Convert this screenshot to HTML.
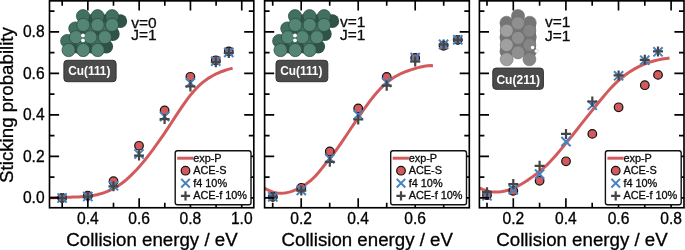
<!DOCTYPE html>
<html><head><meta charset="utf-8"><title>Sticking probability</title>
<style>html,body{margin:0;padding:0;background:#fff}text{stroke:#000;stroke-width:0.3px}text.w{stroke:none}body{width:685px;height:250px;overflow:hidden}</style></head>
<body>
<svg width="685" height="250" viewBox="0 0 685 250" style="display:block;font-family:'Liberation Sans', Arial, Helvetica, sans-serif">
<rect width="685" height="250" fill="#fff"/>
<g>
<clipPath id="cp0"><rect x="49.50" y="0.85" width="204.30" height="206.90"/></clipPath>
<circle cx="120.3" cy="21.1" r="6.9" fill="#2f5347"/>
<circle cx="105.8" cy="21.1" r="6.9" fill="#2f5347"/>
<circle cx="91.3" cy="21.1" r="6.9" fill="#2f5347"/>
<circle cx="112.8" cy="34.0" r="6.9" fill="#2f5347"/>
<circle cx="98.3" cy="34.0" r="6.9" fill="#2f5347"/>
<circle cx="83.8" cy="34.0" r="6.9" fill="#2f5347"/>
<circle cx="106.2" cy="46.6" r="6.9" fill="#2f5347"/>
<circle cx="91.7" cy="46.6" r="6.9" fill="#2f5347"/>
<circle cx="77.2" cy="46.6" r="6.9" fill="#2f5347"/>
<circle cx="83.0" cy="16.2" r="6.6" fill="#41705f" stroke="#2b4b40" stroke-width="0.7"/>
<circle cx="97.6" cy="16.2" r="6.6" fill="#41705f" stroke="#2b4b40" stroke-width="0.7"/>
<circle cx="112.1" cy="16.2" r="6.6" fill="#41705f" stroke="#2b4b40" stroke-width="0.7"/>
<circle cx="75.3" cy="28.5" r="6.6" fill="#41705f" stroke="#2b4b40" stroke-width="0.7"/>
<circle cx="89.8" cy="28.5" r="6.6" fill="#41705f" stroke="#2b4b40" stroke-width="0.7"/>
<circle cx="104.3" cy="28.5" r="6.6" fill="#41705f" stroke="#2b4b40" stroke-width="0.7"/>
<circle cx="67.2" cy="41.0" r="6.6" fill="#41705f" stroke="#2b4b40" stroke-width="0.7"/>
<circle cx="81.7" cy="41.0" r="6.6" fill="#41705f" stroke="#2b4b40" stroke-width="0.7"/>
<circle cx="96.2" cy="41.0" r="6.6" fill="#41705f" stroke="#2b4b40" stroke-width="0.7"/>
<circle cx="83.3" cy="24.9" r="6.6" fill="#558574" stroke="#2b4b40" stroke-width="0.8"/>
<circle cx="97.6" cy="24.9" r="6.6" fill="#558574" stroke="#2b4b40" stroke-width="0.8"/>
<circle cx="112.0" cy="24.9" r="6.6" fill="#558574" stroke="#2b4b40" stroke-width="0.8"/>
<circle cx="75.9" cy="37.2" r="6.6" fill="#558574" stroke="#2b4b40" stroke-width="0.8"/>
<circle cx="90.4" cy="37.2" r="6.6" fill="#558574" stroke="#2b4b40" stroke-width="0.8"/>
<circle cx="104.9" cy="37.2" r="6.6" fill="#558574" stroke="#2b4b40" stroke-width="0.8"/>
<circle cx="68.6" cy="50.0" r="6.6" fill="#558574" stroke="#2b4b40" stroke-width="0.8"/>
<circle cx="83.2" cy="50.0" r="6.6" fill="#558574" stroke="#2b4b40" stroke-width="0.8"/>
<circle cx="97.7" cy="50.0" r="6.6" fill="#558574" stroke="#2b4b40" stroke-width="0.8"/>
<circle cx="83.0" cy="35.5" r="1.9" fill="#fff"/>
<circle cx="83.0" cy="40.3" r="1.9" fill="#fff"/>
<rect x="63.9" y="60.3" width="52.2" height="21.4" rx="3.2" fill="#4b4b4b" stroke="#333" stroke-width="1"/><text x="68.2" y="75.2" class="w" font-size="12.6" font-weight="bold" fill="#fff" textLength="42.2" lengthAdjust="spacingAndGlyphs">Cu(111)</text>
<path d="M49.00,198.12 L51.66,197.86 L54.32,197.66 L56.98,197.51 L59.64,197.40 L62.30,197.32 L64.97,197.26 L67.63,197.22 L70.29,197.17 L72.95,197.12 L75.61,197.05 L78.27,196.95 L80.93,196.82 L83.59,196.64 L86.25,196.41 L88.91,196.11 L91.57,195.74 L94.23,195.28 L96.90,194.73 L99.56,194.07 L102.22,193.31 L104.88,192.42 L107.54,191.40 L110.20,190.23 L112.86,188.92 L115.52,187.45 L118.18,185.80 L120.84,183.98 L123.50,181.97 L126.17,179.79 L128.83,177.43 L131.49,174.92 L134.15,172.25 L136.81,169.43 L139.47,166.48 L142.13,163.39 L144.79,160.17 L147.45,156.84 L150.11,153.40 L152.77,149.85 L155.43,146.21 L158.10,142.48 L160.76,138.67 L163.42,134.78 L166.08,130.83 L168.74,126.82 L171.40,122.75 L174.06,118.67 L176.72,114.59 L179.38,110.57 L182.04,106.63 L184.70,102.81 L187.37,99.14 L190.03,95.67 L192.69,92.43 L195.35,89.43 L198.01,86.69 L200.67,84.20 L203.33,81.95 L205.99,79.92 L208.65,78.10 L211.31,76.46 L213.97,74.99 L216.63,73.69 L219.30,72.52 L221.96,71.47 L224.62,70.53 L227.28,69.69 L229.94,68.91 L232.60,68.20" fill="none" stroke="#d35a5c" stroke-width="3" stroke-linecap="butt" stroke-linejoin="round" clip-path="url(#cp0)"/>
<circle cx="62.10" cy="198.00" r="4.30" fill="#d25a5c" stroke="#111" stroke-width="1.2"/>
<circle cx="87.80" cy="195.70" r="4.30" fill="#d25a5c" stroke="#111" stroke-width="1.2"/>
<circle cx="113.50" cy="181.20" r="4.30" fill="#d25a5c" stroke="#111" stroke-width="1.2"/>
<circle cx="139.00" cy="145.80" r="4.30" fill="#d25a5c" stroke="#111" stroke-width="1.2"/>
<circle cx="164.60" cy="110.50" r="4.30" fill="#d25a5c" stroke="#111" stroke-width="1.2"/>
<circle cx="190.40" cy="76.80" r="4.30" fill="#d25a5c" stroke="#111" stroke-width="1.2"/>
<circle cx="215.80" cy="60.30" r="4.30" fill="#d25a5c" stroke="#111" stroke-width="1.2"/>
<circle cx="228.80" cy="51.40" r="4.30" fill="#d25a5c" stroke="#111" stroke-width="1.2"/>
<path d="M57.50,193.40 L66.70,202.60 M57.50,202.60 L66.70,193.40" stroke="#4383c0" stroke-width="2.00" fill="none"/>
<path d="M83.20,191.90 L92.40,201.10 M83.20,201.10 L92.40,191.90" stroke="#4383c0" stroke-width="2.00" fill="none"/>
<path d="M108.90,181.20 L118.10,190.40 M108.90,190.40 L118.10,181.20" stroke="#4383c0" stroke-width="2.00" fill="none"/>
<path d="M134.40,149.40 L143.60,158.60 M134.40,158.60 L143.60,149.40" stroke="#4383c0" stroke-width="2.00" fill="none"/>
<path d="M160.00,111.90 L169.20,121.10 M160.00,121.10 L169.20,111.90" stroke="#4383c0" stroke-width="2.00" fill="none"/>
<path d="M185.80,78.20 L195.00,87.40 M185.80,87.40 L195.00,78.20" stroke="#4383c0" stroke-width="2.00" fill="none"/>
<path d="M211.20,56.60 L220.40,65.80 M211.20,65.80 L220.40,56.60" stroke="#4383c0" stroke-width="2.00" fill="none"/>
<path d="M224.20,47.80 L233.40,57.00 M224.20,57.00 L233.40,47.80" stroke="#4383c0" stroke-width="2.00" fill="none"/>
<path d="M57.10,198.00 L67.10,198.00 M62.10,193.00 L62.10,203.00" stroke="#454545" stroke-width="2.20" fill="none"/>
<path d="M82.80,196.50 L92.80,196.50 M87.80,191.50 L87.80,201.50" stroke="#454545" stroke-width="2.20" fill="none"/>
<path d="M108.50,186.30 L118.50,186.30 M113.50,181.30 L113.50,191.30" stroke="#454545" stroke-width="2.20" fill="none"/>
<path d="M134.00,155.60 L144.00,155.60 M139.00,150.60 L139.00,160.60" stroke="#454545" stroke-width="2.20" fill="none"/>
<path d="M159.60,119.10 L169.60,119.10 M164.60,114.10 L164.60,124.10" stroke="#454545" stroke-width="2.20" fill="none"/>
<path d="M185.40,86.40 L195.40,86.40 M190.40,81.40 L190.40,91.40" stroke="#454545" stroke-width="2.20" fill="none"/>
<path d="M210.80,62.20 L220.80,62.20 M215.80,57.20 L215.80,67.20" stroke="#454545" stroke-width="2.20" fill="none"/>
<path d="M223.80,53.00 L233.80,53.00 M228.80,48.00 L228.80,58.00" stroke="#454545" stroke-width="2.20" fill="none"/>
<path d="M87.85,207.75 v-9.60 M87.85,0.85 v9.60 M139.15,207.75 v-9.60 M139.15,0.85 v9.60 M190.45,207.75 v-9.60 M190.45,0.85 v9.60 M241.75,207.75 v-9.60 M241.75,0.85 v9.60 M62.20,207.75 v-5.00 M62.20,0.85 v5.00 M113.50,207.75 v-5.00 M113.50,0.85 v5.00 M164.80,207.75 v-5.00 M164.80,0.85 v5.00 M216.10,207.75 v-5.00 M216.10,0.85 v5.00 M49.50,197.80 h9.60 M253.80,197.80 h-9.60 M49.50,177.05 h5.00 M253.80,177.05 h-5.00 M49.50,156.30 h9.60 M253.80,156.30 h-9.60 M49.50,135.55 h5.00 M253.80,135.55 h-5.00 M49.50,114.80 h9.60 M253.80,114.80 h-9.60 M49.50,94.05 h5.00 M253.80,94.05 h-5.00 M49.50,73.30 h9.60 M253.80,73.30 h-9.60 M49.50,52.55 h5.00 M253.80,52.55 h-5.00 M49.50,31.80 h9.60 M253.80,31.80 h-9.60 M49.50,11.05 h5.00 M253.80,11.05 h-5.00" stroke="#000" stroke-width="1.65" fill="none"/>
<rect x="49.50" y="0.85" width="204.30" height="206.90" fill="none" stroke="#000" stroke-width="1.65"/>
<rect x="175.20" y="150.8" width="75.8" height="54" rx="2.2" fill="#fff" stroke="#111" stroke-width="1.4"/>
<path d="M177.20,158.2 H193.40" stroke="#d35a5c" stroke-width="3"/>
<circle cx="185.50" cy="170.70" r="4.30" fill="#d25a5c" stroke="#111" stroke-width="1.2"/>
<path d="M181.20,178.90 L189.80,187.50 M181.20,187.50 L189.80,178.90" stroke="#4383c0" stroke-width="2.00" fill="none"/>
<path d="M180.90,195.80 L190.10,195.80 M185.50,191.20 L185.50,200.40" stroke="#454545" stroke-width="2.20" fill="none"/>
<text x="193.20" y="161.9" font-size="10.9" fill="#111">exp-P</text>
<text x="193.20" y="174.3" font-size="10.9" fill="#111">ACE-S</text>
<text x="193.20" y="186.9" font-size="10.9" fill="#111">f4 10%</text>
<text x="193.20" y="199.4" font-size="10.9" fill="#111">ACE-f 10%</text>
<text x="87.85" y="224.4" font-size="15.6" text-anchor="middle" fill="#000">0.4</text>
<text x="139.15" y="224.4" font-size="15.6" text-anchor="middle" fill="#000">0.6</text>
<text x="190.45" y="224.4" font-size="15.6" text-anchor="middle" fill="#000">0.8</text>
<text x="241.75" y="224.4" font-size="15.6" text-anchor="middle" fill="#000">1.0</text>
<text x="151.95" y="245.6" font-size="18.7" text-anchor="middle" fill="#000">Collision energy / eV</text>
</g>
<g>
<clipPath id="cp1"><rect x="264.60" y="0.85" width="204.70" height="206.90"/></clipPath>
<circle cx="332.3" cy="21.1" r="6.9" fill="#2f5347"/>
<circle cx="317.8" cy="21.1" r="6.9" fill="#2f5347"/>
<circle cx="303.3" cy="21.1" r="6.9" fill="#2f5347"/>
<circle cx="324.8" cy="34.0" r="6.9" fill="#2f5347"/>
<circle cx="310.3" cy="34.0" r="6.9" fill="#2f5347"/>
<circle cx="295.8" cy="34.0" r="6.9" fill="#2f5347"/>
<circle cx="318.2" cy="46.6" r="6.9" fill="#2f5347"/>
<circle cx="303.7" cy="46.6" r="6.9" fill="#2f5347"/>
<circle cx="289.2" cy="46.6" r="6.9" fill="#2f5347"/>
<circle cx="295.0" cy="16.2" r="6.6" fill="#41705f" stroke="#2b4b40" stroke-width="0.7"/>
<circle cx="309.6" cy="16.2" r="6.6" fill="#41705f" stroke="#2b4b40" stroke-width="0.7"/>
<circle cx="324.1" cy="16.2" r="6.6" fill="#41705f" stroke="#2b4b40" stroke-width="0.7"/>
<circle cx="287.3" cy="28.5" r="6.6" fill="#41705f" stroke="#2b4b40" stroke-width="0.7"/>
<circle cx="301.8" cy="28.5" r="6.6" fill="#41705f" stroke="#2b4b40" stroke-width="0.7"/>
<circle cx="316.3" cy="28.5" r="6.6" fill="#41705f" stroke="#2b4b40" stroke-width="0.7"/>
<circle cx="279.2" cy="41.0" r="6.6" fill="#41705f" stroke="#2b4b40" stroke-width="0.7"/>
<circle cx="293.7" cy="41.0" r="6.6" fill="#41705f" stroke="#2b4b40" stroke-width="0.7"/>
<circle cx="308.2" cy="41.0" r="6.6" fill="#41705f" stroke="#2b4b40" stroke-width="0.7"/>
<circle cx="295.3" cy="24.9" r="6.6" fill="#558574" stroke="#2b4b40" stroke-width="0.8"/>
<circle cx="309.6" cy="24.9" r="6.6" fill="#558574" stroke="#2b4b40" stroke-width="0.8"/>
<circle cx="324.0" cy="24.9" r="6.6" fill="#558574" stroke="#2b4b40" stroke-width="0.8"/>
<circle cx="287.9" cy="37.2" r="6.6" fill="#558574" stroke="#2b4b40" stroke-width="0.8"/>
<circle cx="302.4" cy="37.2" r="6.6" fill="#558574" stroke="#2b4b40" stroke-width="0.8"/>
<circle cx="316.9" cy="37.2" r="6.6" fill="#558574" stroke="#2b4b40" stroke-width="0.8"/>
<circle cx="280.6" cy="50.0" r="6.6" fill="#558574" stroke="#2b4b40" stroke-width="0.8"/>
<circle cx="295.2" cy="50.0" r="6.6" fill="#558574" stroke="#2b4b40" stroke-width="0.8"/>
<circle cx="309.7" cy="50.0" r="6.6" fill="#558574" stroke="#2b4b40" stroke-width="0.8"/>
<circle cx="295.0" cy="35.5" r="1.9" fill="#fff"/>
<circle cx="295.0" cy="40.3" r="1.9" fill="#fff"/>
<rect x="276.0" y="60.3" width="51.8" height="21.4" rx="3.2" fill="#4b4b4b" stroke="#333" stroke-width="1"/><text x="280.2" y="75.2" class="w" font-size="12.6" font-weight="bold" fill="#fff" textLength="42.2" lengthAdjust="spacingAndGlyphs">Cu(111)</text>
<path d="M262.00,186.19 L264.48,187.97 L266.96,189.47 L269.43,190.71 L271.91,191.68 L274.39,192.41 L276.87,192.90 L279.35,193.16 L281.83,193.20 L284.30,193.03 L286.78,192.66 L289.26,192.10 L291.74,191.36 L294.22,190.45 L296.70,189.38 L299.17,188.16 L301.65,186.80 L304.13,185.31 L306.61,183.65 L309.09,181.81 L311.57,179.74 L314.04,177.43 L316.52,174.85 L319.00,171.98 L321.48,168.92 L323.96,165.77 L326.43,162.65 L328.91,159.61 L331.39,156.49 L333.87,153.24 L336.35,149.87 L338.83,146.39 L341.30,142.82 L343.78,139.18 L346.26,135.49 L348.74,131.77 L351.22,128.03 L353.70,124.30 L356.17,120.58 L358.65,116.90 L361.13,113.28 L363.61,109.73 L366.09,106.26 L368.57,102.90 L371.04,99.65 L373.52,96.53 L376.00,93.55 L378.48,90.73 L380.96,88.09 L383.43,85.63 L385.91,83.37 L388.39,81.32 L390.87,79.47 L393.35,77.80 L395.83,76.30 L398.30,74.96 L400.78,73.74 L403.26,72.65 L405.74,71.66 L408.22,70.75 L410.70,69.92 L413.17,69.13 L415.65,68.39 L418.13,67.67 L420.61,67.00 L423.09,66.42 L425.57,65.97 L428.04,65.67 L430.52,65.57 L433.00,65.71" fill="none" stroke="#d35a5c" stroke-width="3" stroke-linecap="butt" stroke-linejoin="round" clip-path="url(#cp1)"/>
<circle cx="272.80" cy="196.90" r="4.30" fill="#d25a5c" stroke="#111" stroke-width="1.2"/>
<circle cx="301.30" cy="187.80" r="4.30" fill="#d25a5c" stroke="#111" stroke-width="1.2"/>
<circle cx="329.80" cy="151.50" r="4.30" fill="#d25a5c" stroke="#111" stroke-width="1.2"/>
<circle cx="358.20" cy="108.40" r="4.30" fill="#d25a5c" stroke="#111" stroke-width="1.2"/>
<circle cx="386.70" cy="76.90" r="4.30" fill="#d25a5c" stroke="#111" stroke-width="1.2"/>
<circle cx="415.20" cy="57.90" r="4.30" fill="#d25a5c" stroke="#111" stroke-width="1.2"/>
<circle cx="443.60" cy="45.80" r="4.30" fill="#d25a5c" stroke="#111" stroke-width="1.2"/>
<circle cx="457.80" cy="39.80" r="4.30" fill="#d25a5c" stroke="#111" stroke-width="1.2"/>
<path d="M268.20,192.30 L277.40,201.50 M268.20,201.50 L277.40,192.30" stroke="#4383c0" stroke-width="2.00" fill="none"/>
<path d="M296.70,185.80 L305.90,195.00 M296.70,195.00 L305.90,185.80" stroke="#4383c0" stroke-width="2.00" fill="none"/>
<path d="M325.20,154.00 L334.40,163.20 M325.20,163.20 L334.40,154.00" stroke="#4383c0" stroke-width="2.00" fill="none"/>
<path d="M353.60,110.20 L362.80,119.40 M353.60,119.40 L362.80,110.20" stroke="#4383c0" stroke-width="2.00" fill="none"/>
<path d="M382.10,77.80 L391.30,87.00 M382.10,87.00 L391.30,77.80" stroke="#4383c0" stroke-width="2.00" fill="none"/>
<path d="M410.60,53.00 L419.80,62.20 M410.60,62.20 L419.80,53.00" stroke="#4383c0" stroke-width="2.00" fill="none"/>
<path d="M439.00,39.80 L448.20,49.00 M439.00,49.00 L448.20,39.80" stroke="#4383c0" stroke-width="2.00" fill="none"/>
<path d="M453.20,35.20 L462.40,44.40 M453.20,44.40 L462.40,35.20" stroke="#4383c0" stroke-width="2.00" fill="none"/>
<path d="M267.80,196.90 L277.80,196.90 M272.80,191.90 L272.80,201.90" stroke="#454545" stroke-width="2.20" fill="none"/>
<path d="M296.30,190.60 L306.30,190.60 M301.30,185.60 L301.30,195.60" stroke="#454545" stroke-width="2.20" fill="none"/>
<path d="M324.80,161.80 L334.80,161.80 M329.80,156.80 L329.80,166.80" stroke="#454545" stroke-width="2.20" fill="none"/>
<path d="M353.20,119.50 L363.20,119.50 M358.20,114.50 L358.20,124.50" stroke="#454545" stroke-width="2.20" fill="none"/>
<path d="M381.70,85.70 L391.70,85.70 M386.70,80.70 L386.70,90.70" stroke="#454545" stroke-width="2.20" fill="none"/>
<path d="M410.20,61.50 L420.20,61.50 M415.20,56.50 L415.20,66.50" stroke="#454545" stroke-width="2.20" fill="none"/>
<path d="M438.60,44.50 L448.60,44.50 M443.60,39.50 L443.60,49.50" stroke="#454545" stroke-width="2.20" fill="none"/>
<path d="M452.80,39.90 L462.80,39.90 M457.80,34.90 L457.80,44.90" stroke="#454545" stroke-width="2.20" fill="none"/>
<path d="M301.20,207.75 v-9.60 M301.20,0.85 v9.60 M358.20,207.75 v-9.60 M358.20,0.85 v9.60 M415.20,207.75 v-9.60 M415.20,0.85 v9.60 M272.70,207.75 v-5.00 M272.70,0.85 v5.00 M329.70,207.75 v-5.00 M329.70,0.85 v5.00 M386.70,207.75 v-5.00 M386.70,0.85 v5.00 M443.70,207.75 v-5.00 M443.70,0.85 v5.00 M264.60,197.80 h9.60 M469.30,197.80 h-9.60 M264.60,177.05 h5.00 M469.30,177.05 h-5.00 M264.60,156.30 h9.60 M469.30,156.30 h-9.60 M264.60,135.55 h5.00 M469.30,135.55 h-5.00 M264.60,114.80 h9.60 M469.30,114.80 h-9.60 M264.60,94.05 h5.00 M469.30,94.05 h-5.00 M264.60,73.30 h9.60 M469.30,73.30 h-9.60 M264.60,52.55 h5.00 M469.30,52.55 h-5.00 M264.60,31.80 h9.60 M469.30,31.80 h-9.60 M264.60,11.05 h5.00 M469.30,11.05 h-5.00" stroke="#000" stroke-width="1.65" fill="none"/>
<rect x="264.60" y="0.85" width="204.70" height="206.90" fill="none" stroke="#000" stroke-width="1.65"/>
<rect x="390.70" y="150.8" width="75.8" height="54" rx="2.2" fill="#fff" stroke="#111" stroke-width="1.4"/>
<path d="M392.70,158.2 H408.90" stroke="#d35a5c" stroke-width="3"/>
<circle cx="401.00" cy="170.70" r="4.30" fill="#d25a5c" stroke="#111" stroke-width="1.2"/>
<path d="M396.70,178.90 L405.30,187.50 M396.70,187.50 L405.30,178.90" stroke="#4383c0" stroke-width="2.00" fill="none"/>
<path d="M396.40,195.80 L405.60,195.80 M401.00,191.20 L401.00,200.40" stroke="#454545" stroke-width="2.20" fill="none"/>
<text x="408.70" y="161.9" font-size="10.9" fill="#111">exp-P</text>
<text x="408.70" y="174.3" font-size="10.9" fill="#111">ACE-S</text>
<text x="408.70" y="186.9" font-size="10.9" fill="#111">f4 10%</text>
<text x="408.70" y="199.4" font-size="10.9" fill="#111">ACE-f 10%</text>
<text x="301.20" y="224.4" font-size="15.6" text-anchor="middle" fill="#000">0.2</text>
<text x="358.20" y="224.4" font-size="15.6" text-anchor="middle" fill="#000">0.4</text>
<text x="415.20" y="224.4" font-size="15.6" text-anchor="middle" fill="#000">0.6</text>
<text x="367.25" y="245.6" font-size="18.7" text-anchor="middle" fill="#000">Collision energy / eV</text>
</g>
<g>
<clipPath id="cp2"><rect x="479.40" y="0.85" width="204.60" height="206.90"/></clipPath>
<rect x="500.4" y="23.5" width="35.4" height="29" fill="#727272"/>
<circle cx="518.0" cy="16.0" r="6.6" fill="#757575" stroke="#666" stroke-width="0.5"/>
<circle cx="506.5" cy="22.8" r="6.6" fill="#757575" stroke="#666" stroke-width="0.5"/>
<circle cx="529.7" cy="22.8" r="6.6" fill="#757575" stroke="#666" stroke-width="0.5"/>
<circle cx="518.0" cy="30.4" r="6.6" fill="#757575" stroke="#666" stroke-width="0.5"/>
<circle cx="518.0" cy="44.8" r="6.6" fill="#757575" stroke="#666" stroke-width="0.5"/>
<circle cx="506.5" cy="37.2" r="6.6" fill="#757575" stroke="#666" stroke-width="0.5"/>
<circle cx="506.5" cy="51.6" r="6.6" fill="#757575" stroke="#666" stroke-width="0.5"/>
<circle cx="529.7" cy="37.2" r="6.6" fill="#757575" stroke="#666" stroke-width="0.5"/>
<circle cx="529.7" cy="51.6" r="6.6" fill="#757575" stroke="#666" stroke-width="0.5"/>
<circle cx="529.4" cy="30.7" r="6.5" fill="#858585" stroke="#6a6a6a" stroke-width="0.5"/>
<circle cx="529.4" cy="45.0" r="6.5" fill="#858585" stroke="#6a6a6a" stroke-width="0.5"/>
<circle cx="529.4" cy="59.3" r="6.5" fill="#858585" stroke="#6a6a6a" stroke-width="0.5"/>
<circle cx="506.7" cy="30.7" r="6.5" fill="#a0a0a0" stroke="#6a6a6a" stroke-width="0.5"/>
<circle cx="506.7" cy="45.0" r="6.5" fill="#a0a0a0" stroke="#6a6a6a" stroke-width="0.5"/>
<circle cx="506.7" cy="59.3" r="6.5" fill="#a0a0a0" stroke="#6a6a6a" stroke-width="0.5"/>
<circle cx="518" cy="23.2" r="6.5" fill="#8f8f8f" stroke="#6a6a6a" stroke-width="0.5"/>
<circle cx="518" cy="37.9" r="6.5" fill="#8f8f8f" stroke="#6a6a6a" stroke-width="0.5"/>
<circle cx="518" cy="52.4" r="6.5" fill="#8f8f8f" stroke="#6a6a6a" stroke-width="0.5"/>
<circle cx="532.6" cy="47.5" r="1.7" fill="#fff"/>
<circle cx="536.4" cy="51" r="1.8" fill="#fff" stroke="#bbb" stroke-width="0.5"/>
<rect x="492.8" y="68.1" width="50.6" height="21.2" rx="3.2" fill="#4b4b4b" stroke="#333" stroke-width="1"/><text x="496.4" y="84.1" class="w" font-size="12.6" font-weight="bold" fill="#fff" textLength="43.6" lengthAdjust="spacingAndGlyphs">Cu(211)</text>
<path d="M477.00,186.44 L479.79,188.06 L482.58,189.39 L485.37,190.45 L488.16,191.24 L490.95,191.77 L493.74,192.07 L496.53,192.12 L499.32,191.96 L502.11,191.59 L504.90,191.01 L507.69,190.24 L510.48,189.30 L513.27,188.19 L516.06,186.92 L518.85,185.51 L521.64,183.96 L524.43,182.28 L527.22,180.50 L530.01,178.61 L532.80,176.63 L535.59,174.56 L538.38,172.38 L541.17,170.09 L543.96,167.66 L546.75,165.06 L549.54,162.30 L552.33,159.34 L555.12,156.21 L557.91,152.96 L560.70,149.64 L563.49,146.26 L566.28,142.85 L569.07,139.41 L571.86,135.94 L574.64,132.46 L577.43,128.95 L580.22,125.44 L583.01,121.93 L585.80,118.42 L588.59,114.91 L591.38,111.42 L594.17,107.95 L596.96,104.50 L599.75,101.07 L602.54,97.68 L605.33,94.35 L608.12,91.13 L610.91,88.05 L613.70,85.16 L616.49,82.44 L619.28,79.89 L622.07,77.52 L624.86,75.31 L627.65,73.27 L630.44,71.38 L633.23,69.66 L636.02,68.08 L638.81,66.64 L641.60,65.34 L644.39,64.16 L647.18,63.10 L649.97,62.15 L652.76,61.31 L655.55,60.56 L658.34,59.90 L661.13,59.33 L663.92,58.83 L666.71,58.40 L669.50,58.02" fill="none" stroke="#d35a5c" stroke-width="3" stroke-linecap="butt" stroke-linejoin="round" clip-path="url(#cp2)"/>
<circle cx="487.00" cy="195.20" r="4.30" fill="#d25a5c" stroke="#111" stroke-width="1.2"/>
<circle cx="513.30" cy="190.90" r="4.30" fill="#d25a5c" stroke="#111" stroke-width="1.2"/>
<circle cx="539.60" cy="180.80" r="4.30" fill="#d25a5c" stroke="#111" stroke-width="1.2"/>
<circle cx="566.00" cy="161.30" r="4.30" fill="#d25a5c" stroke="#111" stroke-width="1.2"/>
<circle cx="592.30" cy="133.90" r="4.30" fill="#d25a5c" stroke="#111" stroke-width="1.2"/>
<circle cx="618.60" cy="107.30" r="4.30" fill="#d25a5c" stroke="#111" stroke-width="1.2"/>
<circle cx="644.80" cy="85.20" r="4.30" fill="#d25a5c" stroke="#111" stroke-width="1.2"/>
<circle cx="658.00" cy="74.90" r="4.30" fill="#d25a5c" stroke="#111" stroke-width="1.2"/>
<path d="M482.40,191.20 L491.60,200.40 M482.40,200.40 L491.60,191.20" stroke="#4383c0" stroke-width="2.00" fill="none"/>
<path d="M508.70,185.00 L517.90,194.20 M508.70,194.20 L517.90,185.00" stroke="#4383c0" stroke-width="2.00" fill="none"/>
<path d="M535.00,169.50 L544.20,178.70 M535.00,178.70 L544.20,169.50" stroke="#4383c0" stroke-width="2.00" fill="none"/>
<path d="M561.40,137.00 L570.60,146.20 M561.40,146.20 L570.60,137.00" stroke="#4383c0" stroke-width="2.00" fill="none"/>
<path d="M587.70,100.70 L596.90,109.90 M587.70,109.90 L596.90,100.70" stroke="#4383c0" stroke-width="2.00" fill="none"/>
<path d="M614.00,71.20 L623.20,80.40 M614.00,80.40 L623.20,71.20" stroke="#4383c0" stroke-width="2.00" fill="none"/>
<path d="M640.20,55.60 L649.40,64.80 M640.20,64.80 L649.40,55.60" stroke="#4383c0" stroke-width="2.00" fill="none"/>
<path d="M653.40,47.20 L662.60,56.40 M653.40,56.40 L662.60,47.20" stroke="#4383c0" stroke-width="2.00" fill="none"/>
<path d="M482.00,192.20 L492.00,192.20 M487.00,187.20 L487.00,197.20" stroke="#454545" stroke-width="2.20" fill="none"/>
<path d="M508.30,184.10 L518.30,184.10 M513.30,179.10 L513.30,189.10" stroke="#454545" stroke-width="2.20" fill="none"/>
<path d="M534.60,165.80 L544.60,165.80 M539.60,160.80 L539.60,170.80" stroke="#454545" stroke-width="2.20" fill="none"/>
<path d="M561.00,133.90 L571.00,133.90 M566.00,128.90 L566.00,138.90" stroke="#454545" stroke-width="2.20" fill="none"/>
<path d="M587.30,101.50 L597.30,101.50 M592.30,96.50 L592.30,106.50" stroke="#454545" stroke-width="2.20" fill="none"/>
<path d="M613.60,75.40 L623.60,75.40 M618.60,70.40 L618.60,80.40" stroke="#454545" stroke-width="2.20" fill="none"/>
<path d="M639.80,59.80 L649.80,59.80 M644.80,54.80 L644.80,64.80" stroke="#454545" stroke-width="2.20" fill="none"/>
<path d="M653.00,51.40 L663.00,51.40 M658.00,46.40 L658.00,56.40" stroke="#454545" stroke-width="2.20" fill="none"/>
<path d="M513.30,207.75 v-9.60 M513.30,0.85 v9.60 M565.90,207.75 v-9.60 M565.90,0.85 v9.60 M618.50,207.75 v-9.60 M618.50,0.85 v9.60 M671.10,207.75 v-9.60 M671.10,0.85 v9.60 M487.00,207.75 v-5.00 M487.00,0.85 v5.00 M539.60,207.75 v-5.00 M539.60,0.85 v5.00 M592.20,207.75 v-5.00 M592.20,0.85 v5.00 M644.80,207.75 v-5.00 M644.80,0.85 v5.00 M479.40,197.80 h9.60 M684.00,197.80 h-9.60 M479.40,177.05 h5.00 M684.00,177.05 h-5.00 M479.40,156.30 h9.60 M684.00,156.30 h-9.60 M479.40,135.55 h5.00 M684.00,135.55 h-5.00 M479.40,114.80 h9.60 M684.00,114.80 h-9.60 M479.40,94.05 h5.00 M684.00,94.05 h-5.00 M479.40,73.30 h9.60 M684.00,73.30 h-9.60 M479.40,52.55 h5.00 M684.00,52.55 h-5.00 M479.40,31.80 h9.60 M684.00,31.80 h-9.60 M479.40,11.05 h5.00 M684.00,11.05 h-5.00" stroke="#000" stroke-width="1.65" fill="none"/>
<rect x="479.40" y="0.85" width="204.60" height="206.90" fill="none" stroke="#000" stroke-width="1.65"/>
<rect x="605.40" y="150.8" width="75.8" height="54" rx="2.2" fill="#fff" stroke="#111" stroke-width="1.4"/>
<path d="M607.40,158.2 H623.60" stroke="#d35a5c" stroke-width="3"/>
<circle cx="615.70" cy="170.70" r="4.30" fill="#d25a5c" stroke="#111" stroke-width="1.2"/>
<path d="M611.40,178.90 L620.00,187.50 M611.40,187.50 L620.00,178.90" stroke="#4383c0" stroke-width="2.00" fill="none"/>
<path d="M611.10,195.80 L620.30,195.80 M615.70,191.20 L615.70,200.40" stroke="#454545" stroke-width="2.20" fill="none"/>
<text x="623.40" y="161.9" font-size="10.9" fill="#111">exp-P</text>
<text x="623.40" y="174.3" font-size="10.9" fill="#111">ACE-S</text>
<text x="623.40" y="186.9" font-size="10.9" fill="#111">f4 10%</text>
<text x="623.40" y="199.4" font-size="10.9" fill="#111">ACE-f 10%</text>
<text x="513.30" y="224.4" font-size="15.6" text-anchor="middle" fill="#000">0.2</text>
<text x="565.90" y="224.4" font-size="15.6" text-anchor="middle" fill="#000">0.4</text>
<text x="618.50" y="224.4" font-size="15.6" text-anchor="middle" fill="#000">0.6</text>
<text x="671.10" y="224.4" font-size="15.6" text-anchor="middle" fill="#000">0.8</text>
<text x="582.00" y="245.6" font-size="18.7" text-anchor="middle" fill="#000">Collision energy / eV</text>
</g>
<text x="44.6" y="203.30" font-size="15.6" text-anchor="end" fill="#000">0.0</text>
<text x="44.6" y="161.80" font-size="15.6" text-anchor="end" fill="#000">0.2</text>
<text x="44.6" y="120.30" font-size="15.6" text-anchor="end" fill="#000">0.4</text>
<text x="44.6" y="78.80" font-size="15.6" text-anchor="end" fill="#000">0.6</text>
<text x="44.6" y="37.30" font-size="15.6" text-anchor="end" fill="#000">0.8</text>
<text transform="translate(13.4,105.0) rotate(-90)" font-size="18.7" text-anchor="middle" fill="#000">Sticking probability</text>
<text x="131.2" y="27.5" font-size="15.5" fill="#111">v=0</text><text x="131.2" y="40.3" font-size="15.5" fill="#111">J=1</text>
<text x="340.0" y="27.2" font-size="15.5" fill="#111">v=1</text><text x="340.0" y="39.8" font-size="15.5" fill="#111">J=1</text>
<text x="545.0" y="27.2" font-size="15.5" fill="#111">v=1</text><text x="545.0" y="41.1" font-size="15.5" fill="#111">J=1</text>
</svg>
</body></html>
